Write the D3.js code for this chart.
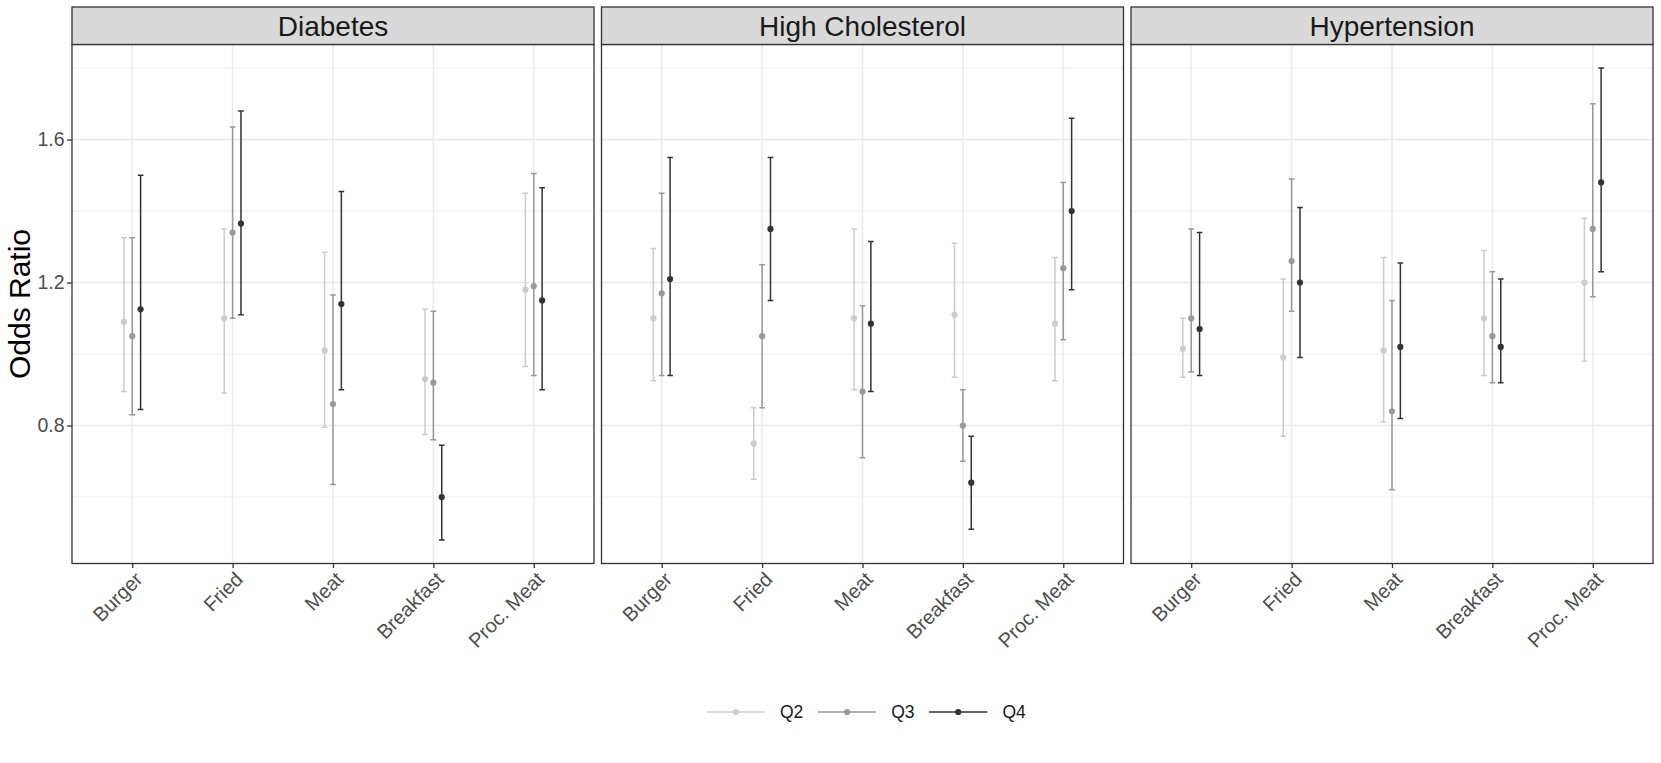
<!DOCTYPE html>
<html>
<head>
<meta charset="utf-8">
<script src="https://cdn.jsdelivr.net/npm/d3@7"></script>
<style>
    body { margin: 0; background: #fff; }
    svg { display: block; font-family: "Liberation Sans", Arial, Helvetica, sans-serif; }
</style>
</head>
<body>
<svg id="chart" width="1661" height="763"></svg>
<script>
"use strict"

var conditions = ["Diabetes", "High Cholesterol", "Hypertension"];
var foods = ["Burger", "Fried", "Meat", "Breakfast", "Proc. Meat"];
var quartiles = ["Q2", "Q3", "Q4"];
var yTicks = [0.8, 1.2, 1.6];

// one row per quartile (Q2, Q3, Q4), columns follow foods
var diabetesOR = [
    [1.09, 1.10, 1.01, 0.93, 1.18],
    [1.05, 1.34, 0.86, 0.92, 1.19],
    [1.125, 1.365, 1.14, 0.60, 1.15]
];
var diabetesLow = [
    [0.895, 0.89, 0.795, 0.775, 0.965],
    [0.83, 1.10, 0.635, 0.76, 0.94],
    [0.845, 1.11, 0.90, 0.48, 0.90]
];
var diabetesHigh = [
    [1.325, 1.35, 1.285, 1.125, 1.45],
    [1.325, 1.635, 1.165, 1.12, 1.505],
    [1.50, 1.68, 1.455, 0.745, 1.465]
];

var cholesterolOR = [
    [1.10, 0.75, 1.10, 1.11, 1.085],
    [1.17, 1.05, 0.895, 0.80, 1.24],
    [1.21, 1.35, 1.085, 0.64, 1.40]
];
var cholesterolLow = [
    [0.925, 0.65, 0.90, 0.935, 0.925],
    [0.94, 0.85, 0.71, 0.70, 1.04],
    [0.94, 1.15, 0.895, 0.51, 1.18]
];
var cholesterolHigh = [
    [1.295, 0.85, 1.35, 1.31, 1.27],
    [1.45, 1.25, 1.135, 0.90, 1.48],
    [1.55, 1.55, 1.315, 0.77, 1.66]
];

var hypertensionOR = [
    [1.015, 0.99, 1.01, 1.10, 1.20],
    [1.10, 1.26, 0.84, 1.05, 1.35],
    [1.07, 1.20, 1.02, 1.02, 1.48]
];
var hypertensionLow = [
    [0.935, 0.77, 0.81, 0.94, 0.98],
    [0.95, 1.12, 0.62, 0.92, 1.16],
    [0.94, 0.99, 0.82, 0.92, 1.23]
];
var hypertensionHigh = [
    [1.10, 1.21, 1.27, 1.29, 1.38],
    [1.35, 1.49, 1.15, 1.23, 1.70],
    [1.34, 1.41, 1.255, 1.21, 1.80]
];

var panelOR = [diabetesOR, cholesterolOR, hypertensionOR];
var panelLow = [diabetesLow, cholesterolLow, hypertensionLow];
var panelHigh = [diabetesHigh, cholesterolHigh, hypertensionHigh];

var layout = {
    left: 72,
    panelWidth: 522,
    gap: 7.5,
    stripTop: 7,
    stripHeight: 37.5,
    panelBottom: 563.5
};
layout.panelTop = layout.stripTop + layout.stripHeight;
var panelHeight = layout.panelBottom - layout.panelTop;

var colors = d3.scaleOrdinal()
    .domain(quartiles)
    .range(["#cccccc", "#999999", "#333333"]);

var svg = d3.select("#chart");

// y scale, ggplot style 5% expansion
var allVals = d3.merge(panelLow.concat(panelHigh).map(function(p) { return d3.merge(p) }));
var ext = d3.extent(allVals);
var pad = (ext[1] - ext[0]) * 0.05;
var yScale = d3.scaleLinear()
    .domain([ext[0] - pad, ext[1] + pad])
    .range([panelHeight, 0]);

var tickStep = yTicks[1] - yTicks[0];
var minorTicks = [yTicks[0] - tickStep / 2].concat(yTicks.map(function(t) { return t + tickStep / 2 }))
    .filter(function(t) { return t > yScale.domain()[0] && t < yScale.domain()[1] });

var xScale = d3.scalePoint()
    .domain(foods)
    .range([0, layout.panelWidth])
    .padding(0.6);
var step = xScale.step();
var dodge = 0.25 / 3;
var capHalf = 0.028;

conditions.forEach(function(cond, pi) {
    var x0 = layout.left + pi * (layout.panelWidth + layout.gap);
    var g = svg.append("g")
        .attr("transform", "translate(" + x0 + "," + layout.panelTop + ")");

    g.append("rect")
        .attr("width", layout.panelWidth)
        .attr("height", panelHeight)
        .attr("fill", "white");

    g.selectAll(".minor")
        .data(minorTicks)
        .enter().append("line")
        .attr("x1", 0).attr("x2", layout.panelWidth)
        .attr("y1", function(d) { return yScale(d) })
        .attr("y2", function(d) { return yScale(d) })
        .attr("stroke", "#ebebeb")
        .attr("stroke-width", 0.8);

    g.selectAll(".majorY")
        .data(yTicks)
        .enter().append("line")
        .attr("x1", 0).attr("x2", layout.panelWidth)
        .attr("y1", function(d) { return yScale(d) })
        .attr("y2", function(d) { return yScale(d) })
        .attr("stroke", "#ebebeb")
        .attr("stroke-width", 1.6);

    g.selectAll(".majorX")
        .data(foods)
        .enter().append("line")
        .attr("x1", function(d) { return xScale(d) })
        .attr("x2", function(d) { return xScale(d) })
        .attr("y1", 0).attr("y2", panelHeight)
        .attr("stroke", "#ebebeb")
        .attr("stroke-width", 1.6);

    quartiles.forEach(function(q, qi) {
        var rows = foods.map(function(f, fi) {
            return {
                x: xScale(f) + (qi - 1) * dodge * step,
                or: panelOR[pi][qi][fi],
                lo: panelLow[pi][qi][fi],
                hi: panelHigh[pi][qi][fi]
            };
        });

        g.selectAll(".err" + q)
            .data(rows)
            .enter().append("path")
            .attr("d", function(d) {
                var c = capHalf * step;
                return "M" + (d.x - c) + "," + yScale(d.hi) + "H" + (d.x + c) +
                    "M" + d.x + "," + yScale(d.hi) + "V" + yScale(d.lo) +
                    "M" + (d.x - c) + "," + yScale(d.lo) + "H" + (d.x + c);
            })
            .attr("fill", "none")
            .attr("stroke", colors(q))
            .attr("stroke-width", 1.5);

        g.selectAll(".pt" + q)
            .data(rows)
            .enter().append("circle")
            .attr("cx", function(d) { return d.x })
            .attr("cy", function(d) { return yScale(d.or) })
            .attr("r", 3.1)
            .attr("fill", colors(q));
    });

    g.append("rect")
        .attr("width", layout.panelWidth)
        .attr("height", panelHeight)
        .attr("fill", "none")
        .attr("stroke", "#333333")
        .attr("stroke-width", 1.3);

    // facet strip
    g.append("rect")
        .attr("y", -layout.stripHeight)
        .attr("width", layout.panelWidth)
        .attr("height", layout.stripHeight)
        .attr("fill", "#d9d9d9")
        .attr("stroke", "#333333")
        .attr("stroke-width", 1.3);

    g.append("text")
        .attr("x", layout.panelWidth / 2)
        .attr("y", -layout.stripHeight / 2)
        .attr("dy", "0.35em")
        .attr("text-anchor", "middle")
        .style("font-size", "28px")
        .attr("fill", "#1a1a1a")
        .text(cond);

    var xAxis = g.append("g")
        .attr("class", "axis")
        .attr("transform", "translate(0," + panelHeight + ")")
        .call(d3.axisBottom(xScale).tickSize(4.5).tickPadding(0));
    xAxis.select(".domain").remove();
    xAxis.selectAll("line").attr("stroke", "#333333").attr("stroke-width", 1.3);
    xAxis.selectAll("text")
        .attr("x", 0)
        .attr("y", 0)
        .attr("dy", "0.71em")
        .attr("text-anchor", "end")
        .attr("transform", "translate(1,7) rotate(-45)")
        .attr("fill", "#4d4d4d")
        .style("font-size", "20px")
        .style("font-family", "inherit");

    if (pi === 0) {
        var yAxis = g.append("g")
            .attr("class", "axis")
            .call(d3.axisLeft(yScale).tickValues(yTicks).tickFormat(d3.format(".1f")).tickSize(5).tickPadding(2.5));
        yAxis.select(".domain").remove();
        yAxis.selectAll("line").attr("stroke", "#333333").attr("stroke-width", 1.3);
        yAxis.selectAll("text")
            .attr("fill", "#4d4d4d")
            .style("font-size", "19.5px")
            .style("font-family", "inherit");
    }
});

// y title
svg.append("text")
    .attr("transform", "translate(29.5," + (layout.panelTop + panelHeight / 2) + ") rotate(-90)")
    .attr("text-anchor", "middle")
    .style("font-size", "30px")
    .attr("fill", "black")
    .text("Odds Ratio");

// legend
var legend = svg.append("g")
    .attr("transform", "translate(706.7,712)");
var keyW = 58.3;
var items = legend.selectAll(".key")
    .data(quartiles)
    .enter().append("g")
    .attr("transform", function(d, i) { return "translate(" + (i * 111.2) + ",0)" });
items.append("line")
    .attr("x1", 0).attr("x2", keyW)
    .attr("stroke", function(d) { return colors(d) })
    .attr("stroke-width", 1.5);
items.append("circle")
    .attr("cx", keyW / 2)
    .attr("r", 3.1)
    .attr("fill", function(d) { return colors(d) });
items.append("text")
    .attr("x", keyW + 15)
    .attr("dy", "0.35em")
    .style("font-size", "17.5px")
    .attr("fill", "#1a1a1a")
    .text(function(d) { return d });
</script>
</body>
</html>
